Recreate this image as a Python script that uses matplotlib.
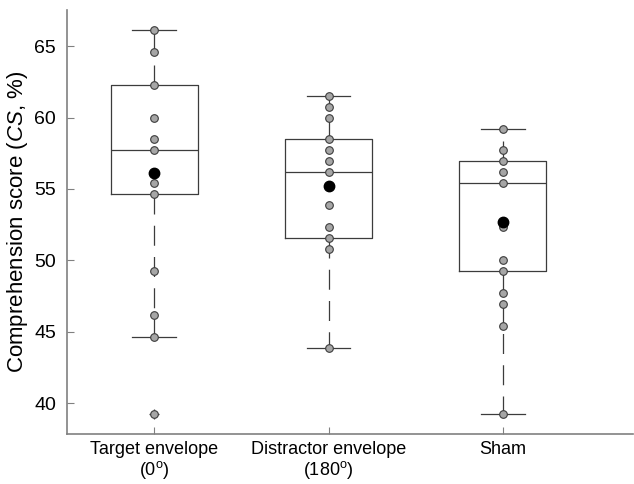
import matplotlib
matplotlib.use('Agg')
import matplotlib.pyplot as plt

plt.rcParams['font.family'] = 'Liberation Sans'
plt.rcParams['mathtext.fontset'] = 'custom'
plt.rcParams['mathtext.rm'] = 'Liberation Sans'
plt.rcParams['mathtext.it'] = 'Liberation Sans:italic'

labels = ['Target envelope\n(0$^\\mathrm{o}$)',
          'Distractor envelope\n(180$^\\mathrm{o}$)',
          'Sham']

# individual scores per condition
target = [66.15, 64.62, 62.31, 60.00, 58.46, 57.69, 55.38, 54.62, 49.23, 46.15, 44.62, 39.23]
distractor = [61.54, 60.77, 60.00, 58.46, 57.69, 56.92, 56.15, 53.85, 52.31, 51.54, 50.77, 43.85]
sham = [59.23, 57.69, 56.92, 56.15, 55.38, 52.31, 50.00, 49.23, 47.69, 46.92, 45.38, 39.23]

# box statistics
q1 = [54.62, 51.54, 49.23]
med = [57.69, 56.15, 55.38]
q3 = [62.31, 58.46, 56.92]
wlo = [44.62, 43.85, 39.23]
whi = [66.15, 61.54, 59.23]
outliers = [[39.23], [], []]
means = [56.14, 55.20, 52.70]

fig = plt.figure(figsize=(6.34, 4.84), dpi=100)
ax = fig.add_axes([0.1057, 0.1033, 0.8923, 0.8757])

stats = []
for i in range(3):
    stats.append(dict(q1=q1[i], med=med[i], q3=q3[i], whislo=wlo[i],
                      whishi=whi[i], fliers=outliers[i], label=labels[i]))

lc = '#3c3c3c'
ax.bxp(stats, positions=[1, 2, 3], widths=0.5, showfliers=True,
       boxprops=dict(color=lc, linewidth=0.9),
       medianprops=dict(color=lc, linewidth=0.9),
       whiskerprops=dict(color=lc, linewidth=0.9, linestyle=(0, (16, 9))),
       capprops=dict(color=lc, linewidth=0.9),
       flierprops=dict(marker='+', markeredgecolor=lc, markersize=7,
                       markeredgewidth=0.9))

for i, vals in enumerate([target, distractor, sham]):
    ax.plot([i + 1] * len(vals), vals, 'o', markersize=5.5,
            markerfacecolor='#a6a6a6', markeredgecolor='#3c3c3c',
            markeredgewidth=0.8, zorder=3)
ax.plot([1, 2, 3], means, 'o', color='black', markersize=7.5, zorder=4)

ax.set_xlim(0.5, 3.745)
ax.set_ylim(37.83, 67.52)
ax.set_yticks([40, 45, 50, 55, 60, 65])
ax.set_xticks([1, 2, 3])
ax.set_xticklabels(labels, fontsize=13, linespacing=1.05)
ax.tick_params(direction='in', color='#808080', length=5)
ax.tick_params(axis='y', labelsize=14, pad=8)
ax.tick_params(axis='x', pad=5)
for s in ['top', 'right']:
    ax.spines[s].set_visible(False)
for s in ['left', 'bottom']:
    ax.spines[s].set_color('#808080')
    ax.spines[s].set_linewidth(1.2)
ax.set_ylabel('Comprehension score ($\\mathit{CS}$, %)', fontsize=16, labelpad=3)

fig.savefig('out.png', dpi=100)
